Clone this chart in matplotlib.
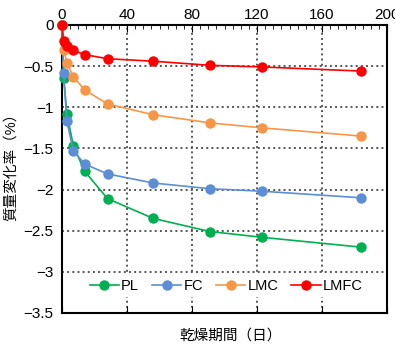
import matplotlib
matplotlib.use("Agg")
import matplotlib.pyplot as plt
from matplotlib.ticker import MultipleLocator

plt.rcParams['font.family'] = ['Liberation Sans', 'Noto Sans CJK JP', 'DejaVu Sans']

days = [0, 1, 3, 7, 14, 28, 56, 91, 123, 184]
pl = [0, -0.65, -1.08, -1.47, -1.78, -2.11, -2.35, -2.51, -2.58, -2.70]
fc = [0, -0.58, -1.17, -1.53, -1.69, -1.81, -1.92, -1.99, -2.02, -2.10]
lmc = [0, -0.30, -0.46, -0.63, -0.79, -0.96, -1.09, -1.19, -1.25, -1.35]
lmfc = [0, -0.20, -0.26, -0.31, -0.36, -0.41, -0.44, -0.49, -0.51, -0.56]

names = ["PL", "FC", "LMC", "LMFC"]
colors = ["#00B050", "#5B8ED6", "#F79646", "#FF0000"]

fig = plt.figure(figsize=(3.95, 3.47), dpi=100)
ax = fig.add_axes([0.157, 0.098, 0.823, 0.830])

for vals, name, c in zip([pl, fc, lmc, lmfc], names, colors):
    ax.plot(days, vals, color=c, lw=1.2, marker="o", markersize=7.5,
            markeredgewidth=0, label=name, clip_on=False, zorder=3)

ax.set_xlim(0, 200)
ax.set_ylim(-3.5, 0)
ax.xaxis.set_major_locator(MultipleLocator(40))
ax.xaxis.set_minor_locator(MultipleLocator(5))
ax.set_yticks([-3.5, -3, -2.5, -2, -1.5, -1, -0.5, 0])
ax.set_yticklabels(["−3.5", "−3", "−2.5", "−2", "−1.5", "−1", "−0.5", "0"])
ax.tick_params(axis="x", which="both", top=True, bottom=True, labeltop=True,
               labelbottom=False, direction="in", labelsize=11, pad=2)
ax.tick_params(axis="x", which="minor", bottom=False, length=3)
ax.tick_params(axis="x", which="major", length=5)
ax.tick_params(axis="y", direction="in", length=0, labelsize=11, pad=6)

ax.grid(True, color="#555555", linestyle=":", linewidth=1.4)
ax.set_axisbelow(True)
for s in ax.spines.values():
    s.set_linewidth(1.5)

ax.set_ylabel("質量変化率（%）", fontsize=10.5)
ax.yaxis.set_label_coords(-0.135, 0.52)
ax.set_xlabel("乾燥期間（日）", fontsize=10.5)
ax.xaxis.set_label_coords(0.52, -0.055)

leg = ax.legend(loc="center", bbox_to_anchor=(0.505, 0.094), ncol=4,
                frameon=True, fontsize=10.5, handlelength=2.0, handletextpad=0.15,
                columnspacing=0.9, borderpad=0.3)
leg.get_frame().set_edgecolor("none")
leg.get_frame().set_facecolor("white")
leg.get_frame().set_alpha(1)

fig.savefig("out.png", dpi=100)
